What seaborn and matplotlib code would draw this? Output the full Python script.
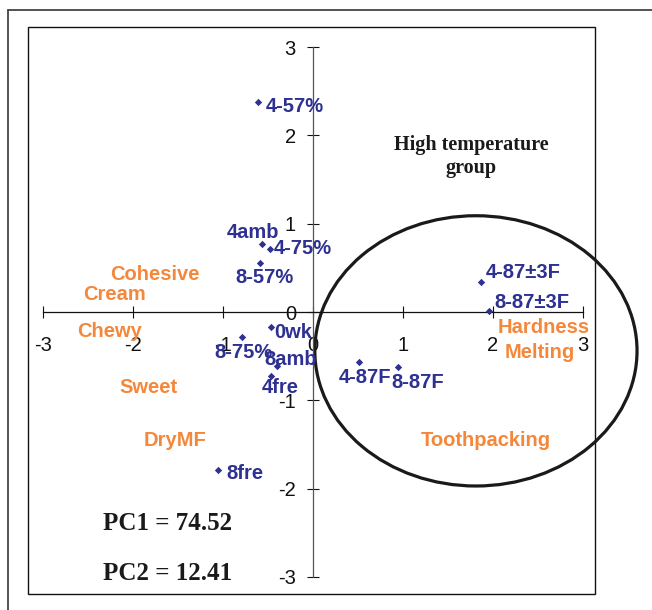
import numpy as np
import pandas as pd
import matplotlib
matplotlib.use("Agg")
import matplotlib.pyplot as plt
from matplotlib.patches import Ellipse, Rectangle
from matplotlib.lines import Line2D
import seaborn as sns

# ---- data ----
samples = ["4-57%", "4amb", "4-75%", "8-57%", "0wk", "8-75%", "8amb", "4fre",
           "8fre", "4-87F", "8-87F", "4-87\u00b13F", "8-87\u00b13F"]
pc1 = [-0.61, -0.57, -0.48, -0.59, -0.47, -0.79, -0.40, -0.47,
       -1.06, 0.51, 0.94, 1.87, 1.96]
pc2 = [2.38, 0.77, 0.71, 0.55, -0.17, -0.28, -0.61, -0.72,
       -1.79, -0.57, -0.62, 0.34, 0.01]

attributes = ["Cohesive", "Cream", "Chewy", "Sweet", "DryMF",
              "Hardness", "Melting", "Toothpacking"]
attr_pc1 = [-1.76, -2.21, -2.26, -1.83, -1.53, 2.56, 2.52, 1.92]
attr_pc2 = [0.42, 0.20, -0.22, -0.86, -1.45, -0.17, -0.46, -1.46]

ticks = [-3, -2, -1, 0, 1, 2, 3]
pc1_label = "PC1 = 74.52"
pc2_label = "PC2 = 12.41"
group_label = "High temperature\ngroup"

# ---- label placement (style, offsets in points) ----
label_style = {
    "4-57%": ("left", 5.8, -3.6),
    "4amb": ("center", -6.5, 8.6),
    "4-75%": ("left", 2.9, 0.7),
    "8-57%": ("center", 3.6, -10.1),
    "0wk": ("left", 2.2, -3.6),
    "8-75%": ("center", 1.4, -11.5),
    "8amb": ("center", 10.1, 4.3),
    "4fre": ("center", 7.2, -8.6),
    "8fre": ("left", 6.5, -2.2),
    "4-87F": ("center", 4.3, -10.8),
    "8-87F": ("center", 14.4, -11.5),
    "4-87\u00b13F": ("left", 2.9, 6.5),
    "8-87\u00b13F": ("left", 3.6, 6.5),
}

navy = "#2E3192"
orange = "#F5873A"

sns.set_theme(style="white")
plt.rcParams["font.family"] = ["Liberation Sans", "DejaVu Sans"]

fig = plt.figure(figsize=(6.52, 6.10), dpi=100)
ax = fig.add_axes([28 / 652, 1 - 594 / 610, 567 / 652, 567 / 610])

df = pd.DataFrame({"sample": samples, "pc1": pc1, "pc2": pc2})
sns.scatterplot(data=df, x="pc1", y="pc2", marker="D", s=14, color=navy,
                linewidth=0, ax=ax, legend=False, zorder=3)

ax.set_xlim(-3.167, 3.133)
ax.set_ylim(-3.193, 3.227)

# spines through origin
for s in ["top", "right"]:
    ax.spines[s].set_visible(False)
ax.spines["left"].set_position(("data", 0))
ax.spines["bottom"].set_position(("data", 0))
ax.spines["left"].set_bounds(-3, 3)
ax.spines["bottom"].set_bounds(-3, 3)
ax.spines["left"].set_color("#555555")
ax.spines["bottom"].set_color("#111111")
ax.spines["left"].set_linewidth(0.9)
ax.spines["bottom"].set_linewidth(0.9)
ax.set_xticks(ticks)
ax.set_yticks(ticks)
ax.set_xticklabels([str(t) for t in ticks])
ax.set_yticklabels([str(t) for t in ticks])
ax.tick_params(axis="both", direction="inout", length=8.6, width=0.8,
               color="#111111", labelsize=14.5, labelcolor="#111111")
ax.tick_params(axis="x", pad=13, bottom=True)
ax.tick_params(axis="y", pad=8, left=True)
ax.set_xlabel("")
ax.set_ylabel("")

# box around plot area
ax.add_patch(Rectangle((0, 0), 1, 1, transform=ax.transAxes, fill=False,
                       edgecolor="#111111", linewidth=1.0, clip_on=False))

# outer frame lines (figure coords)
fig.add_artist(Line2D([8 / 652, 1.0], [1 - 10 / 610, 1 - 10 / 610],
                      color="#444444", linewidth=1.3, transform=fig.transFigure))
fig.add_artist(Line2D([8 / 652, 8 / 652], [0.0, 1 - 10 / 610],
                      color="#444444", linewidth=1.3, transform=fig.transFigure))

# sample labels
for name, x, y in zip(samples, pc1, pc2):
    ha, dx, dy = label_style[name]
    ax.annotate(name, (x, y), xytext=(dx, dy), textcoords="offset points",
                ha=ha, va="center", color=navy, fontsize=14.5,
                fontweight="bold", zorder=4)

# attribute labels
for name, x, y in zip(attributes, attr_pc1, attr_pc2):
    ax.text(x, y, name, ha="center", va="center", color=orange,
            fontsize=14.5, fontweight="bold", zorder=4)

# ellipse for high temperature group
ax.add_patch(Ellipse((1.81, -0.44), 3.58, 3.06, fill=False,
                     edgecolor="#1a1a1a", linewidth=2.3, clip_on=False,
                     zorder=2))

serif = ["Liberation Serif", "DejaVu Serif"]
ax.text(1.76, 1.76, group_label, ha="center", va="center", fontsize=14.5,
        fontweight="bold", family=serif, color="#1a1a1a", linespacing=1.15)
ax.text(-2.33, -2.39, pc1_label, ha="left", va="center", fontsize=18,
        fontweight="bold", family=serif, color="#1a1a1a")
ax.text(-2.33, -2.96, pc2_label, ha="left", va="center", fontsize=18,
        fontweight="bold", family=serif, color="#1a1a1a")

fig.savefig("out.png", dpi=100)
